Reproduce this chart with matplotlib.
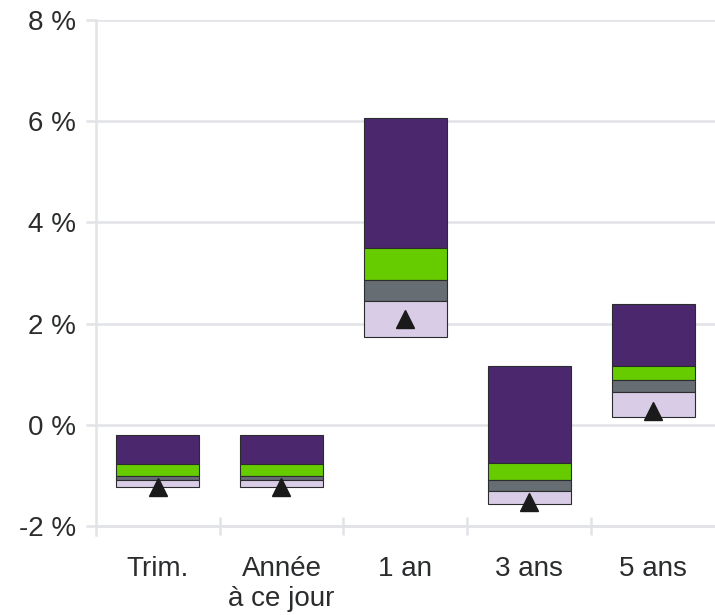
import matplotlib
matplotlib.use('Agg')
import matplotlib.pyplot as plt
import numpy as np

# quartile bands per period (top -> bottom boundaries), in %
categories = ['Trim.', 'Année\nà ce jour', '1 an', '3 ans', '5 ans']
p_top = [-0.20, -0.20, 6.06, 1.16, 2.39]
p_q1 = [-0.77, -0.77, 3.50, -0.74, 1.16]
p_med = [-1.00, -1.00, 2.86, -1.09, 0.89]
p_q3 = [-1.09, -1.09, 2.45, -1.30, 0.66]
p_bot = [-1.23, -1.23, 1.73, -1.55, 0.15]
fund = [-1.22, -1.22, 2.10, -1.52, 0.27]
yticks = [-2, 0, 2, 4, 6, 8]

band_colors = ['#4B286D', '#66CC00', '#676E73', '#D8CCE6']
grid_color = '#E1E3E6'
text_color = '#2A2C2E'

plt.rcParams['font.family'] = ['Liberation Sans', 'DejaVu Sans']

fig = plt.figure(figsize=(7.15, 6.15), dpi=100)
ax = fig.add_axes([0.1338, 0.130, 0.8662, 0.838])

x = np.arange(len(categories))
bounds = [p_top, p_q1, p_med, p_q3, p_bot]
for i in range(4):
    hi = np.array(bounds[i])
    lo = np.array(bounds[i + 1])
    ax.bar(x, hi - lo, bottom=lo, width=0.67, color=band_colors[i],
           edgecolor='#2A2C2E', linewidth=0.8, zorder=3)

ax.plot(x, fund, linestyle='none', marker='^', markersize=13,
        color='#1A1A1A', zorder=4)

ax.set_xlim(-0.5, 4.5)
ax.set_ylim(-2.17, 8)

ax.set_yticks(yticks)
ax.set_yticklabels(['%d %%' % v for v in yticks])
ax.yaxis.grid(True, color=grid_color, linewidth=1.8, zorder=0)
ax.set_axisbelow(True)

ax.set_xticks(x)
ax.set_xticklabels(categories, linespacing=1.65)
ax.set_xticks(np.arange(0.5, 4.5, 1.0), minor=True)

for side in ['top', 'right']:
    ax.spines[side].set_visible(False)
ax.spines['left'].set_color(grid_color)
ax.spines['left'].set_linewidth(1.8)
ax.spines['bottom'].set_position(('data', -2))
ax.spines['bottom'].set_color(grid_color)
ax.spines['bottom'].set_linewidth(1.8)

ax.tick_params(axis='y', length=7, width=1.8, color=grid_color, pad=7,
               labelsize=20, labelcolor=text_color)
ax.tick_params(axis='x', which='major', length=0, pad=21,
               labelsize=20, labelcolor=text_color)
ax.tick_params(axis='x', which='minor', direction='inout', length=13,
               width=1.8, color=grid_color)

plt.savefig('out.png', dpi=100)
plt.close()
